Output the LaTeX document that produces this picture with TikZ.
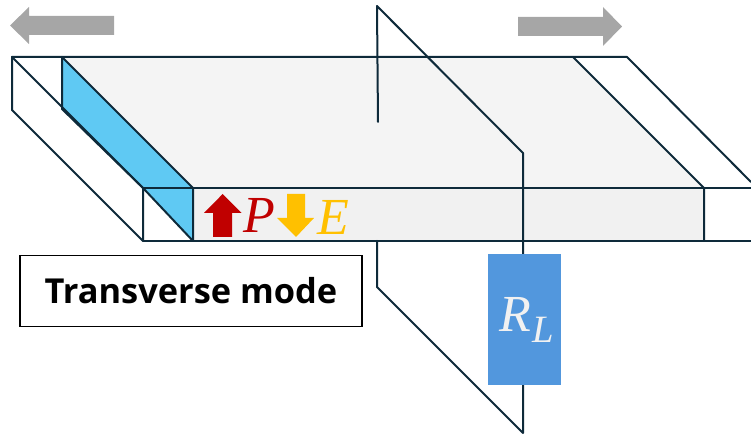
\documentclass[tikz,border=0pt]{standalone}
\usepackage{fontspec}
\setmainfont{Liberation Serif}
\newfontfamily\labelfont{Open Sans}
\definecolor{wire}{HTML}{0E2A3A}
\definecolor{topgray}{HTML}{F4F4F4}
\definecolor{frontgray}{HTML}{F1F1F1}
\definecolor{skyblue}{HTML}{5FC9F3}
\definecolor{resblue}{HTML}{5297DD}
\definecolor{arrowgray}{HTML}{A6A6A6}
\definecolor{darkred}{HTML}{C00000}
\definecolor{amber}{HTML}{FFC000}
\tikzset{
  wireline/.style={draw=wire,line width=1.5pt,line join=round,line cap=round},
  sym/.style={inner sep=0pt,anchor=base west,font=\itshape\fontsize{39}{39}\selectfont},
}
\begin{document}
\begin{tikzpicture}[x=0.75pt,y=-0.75pt]
\useasboundingbox (0,0) rectangle (751,434);
% key points
\coordinate (tl) at (12,57);
\coordinate (tli) at (62,57);
\coordinate (tri) at (573,57);
\coordinate (tr) at (627,57);
\coordinate (fl) at (143,188);
\coordinate (fli) at (193,188);
\coordinate (fri) at (704,188);
\coordinate (frr) at (751,188);
\coordinate (rend) at (751,182);
\coordinate (bl) at (143,241);
\coordinate (bli) at (193,241);
\coordinate (bri) at (704,241);
\coordinate (brr) at (751,241);
\coordinate (ldl) at (12,110);
\coordinate (ldi) at (62,109);
% fills
\fill[topgray] (tli) -- (tri) -- (fri) -- (fli) -- cycle;
\fill[frontgray] (fli) rectangle (bri);
\fill[skyblue] (tli) -- (fli) -- (bli) -- (fl) -- (ldi) -- cycle;
% wire frame
\draw[wireline] (tl) -- (tr) -- (rend);
\draw[wireline] (tri) -- (fri) -- (bri);
\draw[wireline] (fl) -- (frr);
\draw[wireline] (bl) -- (brr);
\draw[wireline] (tl) -- (ldl) -- (bl) -- (fl);
\draw[wireline] (tl) -- (fl) -- (bli) -- (fli);
\draw[wireline] (tli) -- (fli);
\draw[wireline] (tli) -- (ldi) -- (fl);
% electrode plane
\coordinate (pa) at (377,6);
\coordinate (pb) at (378,122);
\coordinate (pc) at (523,153);
\coordinate (pd) at (523,433);
\coordinate (pe) at (377,287);
\coordinate (pf) at (377,241);
\draw[wireline] (pb) -- (pa) -- (pc) -- (pd) -- (pe) -- (pf);
% resistor
\node[fill=resblue,minimum width=54.75pt,minimum height=98.25pt,inner sep=0pt,outer sep=0pt] (rl) at (524.5,319.5) {};
\node[sym,text=frontgray] (rlabel) at (499,332) {R};
\node[sym,text=frontgray,font=\itshape\fontsize{29}{29}\selectfont] (rsub) at (532,343) {L};
% gray arrows
\fill[arrowgray] (114,16) -- (29,16) -- (29,7) -- (10,25.5) -- (29,44) -- (29,35) -- (114,35) -- cycle;
\fill[arrowgray] (518,17) -- (603,17) -- (603,7) -- (622,26.5) -- (603,46) -- (603,36) -- (518,36) -- cycle;
% P and E
\fill[darkred] (213,237) -- (213,213) -- (204,213) -- (222.7,194) -- (241.7,213) -- (232,213) -- (232,237) -- cycle;
\fill[amber] (287,194) -- (305,194) -- (305,218) -- (314,218) -- (296,237) -- (277,218) -- (287,218) -- cycle;
\node[sym,text=darkred] (plabel) at (243,233) {P};
\node[sym,text=amber] (elabel) at (317,235) {E};
% mode box
\node[draw=black,line width=1pt,fill=white,minimum width=256.5pt,minimum height=53.5pt,inner sep=0pt] (mode) at (191,291) {\labelfont\bfseries\fontsize{25.8}{26}\selectfont Transverse mode};
\end{tikzpicture}
\end{document}
